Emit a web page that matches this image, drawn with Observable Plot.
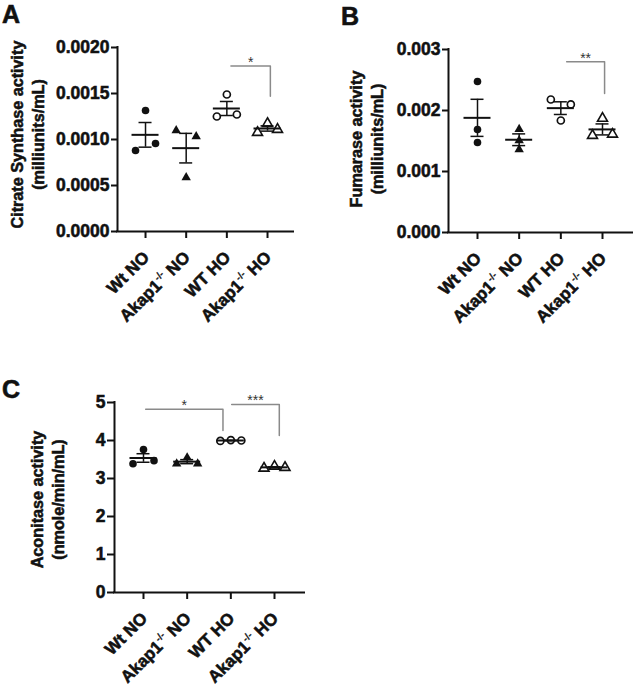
<!DOCTYPE html>
<html>
<head>
<meta charset="utf-8">
<script src="https://cdn.jsdelivr.net/npm/d3@7"></script>
<script src="https://cdn.jsdelivr.net/npm/@observablehq/plot@0.6"></script>
<style>
  body { margin: 0; background: #fff; }
  #fig { position: relative; width: 633px; height: 693px; overflow: hidden; background: #fff;
         font-family: "Liberation Sans", Arial, sans-serif; color: #111; }
  .panel { position: absolute; }
  .letter { position: absolute; font-weight: bold; font-size: 25px; line-height: 1.2; color: #111;
            -webkit-text-stroke: 0.6px #111; }
  #fig svg text { stroke: #111; stroke-width: 0.55px; paint-order: stroke; }
</style>
</head>
<body>
<div id="fig">
  <div class="letter" style="left:2px;top:-1px;">A</div>
  <div class="letter" style="left:341px;top:1px;">B</div>
  <div class="letter" style="left:2px;top:374px;">C</div>
</div>
<script>
// ---------- data ----------
const groups = ["Wt NO", "Akap1-/- NO", "WT HO", "Akap1-/- HO"];

// three animals per group, listed left -> right as they sit in the scatter
const citrate = [
  [0.00088, 0.001315, 0.000957],
  [0.001098, 0.000587, 0.001033],
  [0.00125, 0.001489, 0.001272],
  [0.001076, 0.001174, 0.001109]
];
const citrateCols = [[-1, 0, 1], [-1, 0, 1], [-1, 0, 1], [-1, 0, 1]];

const fumarase = [
  [0.002475, 0.001689, 0.001475],
  [0.001693, 0.001508, 0.001361],
  [0.00218, 0.001836, 0.0021],
  [0.00159, 0.00187, 0.00161]
];
const fumaraseCols = [[0, 0, 0], [0, 0, 0], [-1, 0, 1], [-1, 0, 1]];

const aconitase = [
  [3.39, 3.76, 3.47],
  [3.39, 3.55, 3.39],
  [3.99, 4.01, 4.00],
  [3.27, 3.32, 3.29]
];
const aconitaseCols = [[-1, 0, 1], [-1, 0, 1], [-1, 0, 1], [-1, 0, 1]];

const citrateTicks = [0, 0.0005, 0.001, 0.0015, 0.002];
const fumaraseTicks = [0, 0.001, 0.002, 0.003];
const aconitaseTicks = [0, 1, 2, 3, 4, 5];

// significance brackets (group positions, level, end of the drop)
const citrateSig = [{a: 2.1, b: 3.07, y: 0.0018, yEnd: 0.00147, label: "*"}];
const fumaraseSig = [{a: 2.14, b: 3.05, y: 0.0028, yEnd: 0.00228, label: "**"}];
const aconitaseSig = [
  {a: 0.05, b: 1.82, y: 4.82, yEnd: 4.26, label: "*"},
  {a: 2.02, b: 3.11, y: 4.95, yEnd: 4.13, label: "***"}
];

// ---------- drawing ----------
const ink = "#111";
const NS = "http://www.w3.org/2000/svg";

function superscripts(svg) {
  svg.querySelectorAll("text").forEach(t => {
    if (t.children.length) return;
    const m = t.textContent.match(/^(Akap1)(-\/-)(.*)$/);
    if (!m) return;
    t.textContent = "";
    const a = document.createElementNS(NS, "tspan"); a.textContent = m[1];
    const b = document.createElementNS(NS, "tspan"); b.textContent = m[2];
    b.setAttribute("font-size", "10"); b.setAttribute("dy", "-7"); b.setAttribute("dx", "0.5");
    b.style.strokeWidth = "0.2px";
    const c = document.createElementNS(NS, "tspan"); c.textContent = m[3];
    c.setAttribute("dy", "7");
    t.append(a, b, c);
  });
  svg.querySelectorAll("text").forEach(t => {
    if (/^\*+$/.test(t.textContent)) t.style.stroke = "none";
  });
}

function panel(o) {
  const {values, cols, ticks, fmt, ymax, title, sig, width, height, mt, mb, ml, mr, xdom, spread, tickLen, titleDx, titleDy} = o;
  const ppu = (width - ml - mr) / (xdom[1] - xdom[0]);
  const rows = values.flatMap((vs, g) => vs.map((v, k) => ({g, v, x: g + cols[g][k] * spread / ppu})));
  const stats = values.map((vs, g) => {
    const m = d3.mean(vs), s = d3.deviation(vs) / Math.sqrt(vs.length);
    return {g, m, lo: m - s, hi: m + s};
  });
  const hm = 13.5 / ppu, hc = 6.5 / ppu;
  const bracketPts = sig.flatMap((s, i) => [{i, x: s.a, y: s.y}, {i, x: s.b, y: s.y}, {i, x: s.b, y: s.yEnd}]);
  const svg = Plot.plot({
    width, height, marginTop: mt, marginBottom: mb, marginLeft: ml, marginRight: mr,
    x: {domain: xdom},
    y: {domain: [0, ymax]},
    style: {fontFamily: "'Liberation Sans', Arial, sans-serif", fontSize: "17.5px", fontWeight: "bold", color: ink, background: "transparent", overflow: "visible"},
    marks: [
      Plot.axisY({ticks, tickFormat: fmt, tickSize: tickLen, tickPadding: 2, strokeWidth: 2, label: null, fontSize: 17.5, fontWeight: "bold"}),
      Plot.axisX({ticks: [0, 1, 2, 3], tickSize: 7, tickFormat: () => "", strokeWidth: 2, label: null}),
      Plot.ruleX([xdom[0]], {stroke: ink, strokeWidth: 2, strokeLinecap: "square"}),
      Plot.ruleY([0], {stroke: ink, strokeWidth: 2, strokeLinecap: "square"}),
      Plot.text(groups, {x: (d, i) => i, frameAnchor: "bottom", text: d => d, rotate: -45, textAnchor: "end",
        lineAnchor: "middle", dy: 23, dx: 1, fontSize: 17, fontWeight: "bold", fill: ink}),
      Plot.text([title], {frameAnchor: "left", text: d => d, rotate: -90, lineHeight: 1.3, dx: titleDx, dy: titleDy,
        fontSize: 16.2, fontWeight: "bold", textAnchor: "middle", lineAnchor: "middle", fill: ink}),
      Plot.dot(rows.filter(d => d.g === 0), {x: "x", y: "v", r: 3.8, fill: ink, symbol: "circle"}),
      Plot.dot(rows.filter(d => d.g === 1), {x: "x", y: "v", r: 3.5, fill: ink, symbol: "triangle"}),
      Plot.dot(rows.filter(d => d.g === 2), {x: "x", y: "v", r: 3.5, fill: "white", stroke: ink, strokeWidth: 1.7, symbol: "circle"}),
      Plot.dot(rows.filter(d => d.g === 3), {x: "x", y: "v", r: 3.7, fill: "white", stroke: ink, strokeWidth: 1.6, symbol: "triangle"}),
      Plot.ruleY(stats, {y: "m", x1: d => d.g - hm, x2: d => d.g + hm, stroke: ink, strokeWidth: 2}),
      Plot.ruleX(stats, {x: "g", y1: "lo", y2: "hi", stroke: ink, strokeWidth: 1.5}),
      Plot.ruleY(stats, {y: "hi", x1: d => d.g - hc, x2: d => d.g + hc, stroke: ink, strokeWidth: 1.5}),
      Plot.ruleY(stats, {y: "lo", x1: d => d.g - hc, x2: d => d.g + hc, stroke: ink, strokeWidth: 1.5}),
      Plot.line(bracketPts, {x: "x", y: "y", z: "i", stroke: "#8a8a8a", strokeWidth: 1.5}),
      Plot.text(sig, {x: d => (d.a + d.b) / 2, y: "y", text: "label", lineAnchor: "bottom", dy: 1,
        fontSize: 14, fontWeight: "normal", fill: "#333"})
    ]
  });
  superscripts(svg);
  return svg;
}

function place(svg, left, top) {
  const div = document.createElement("div");
  div.className = "panel";
  div.style.left = left + "px";
  div.style.top = top + "px";
  div.appendChild(svg);
  document.getElementById("fig").appendChild(div);
}

place(panel({
  values: citrate, cols: citrateCols, ticks: citrateTicks, fmt: d3.format(".4f"), ymax: 0.002,
  title: "Citrate Synthase activity\n(milliunits/mL)", sig: citrateSig,
  width: 316, height: 340, mt: 47, mb: 109, ml: 117, mr: 23, xdom: [-0.689, 3.639],
  spread: 10, tickLen: 6, titleDx: -90.5, titleDy: -5
}), 0, 0);

place(panel({
  values: fumarase, cols: fumaraseCols, ticks: fumaraseTicks, fmt: d3.format(".3f"), ymax: 0.003,
  title: "Fumarase activity\n(milliunits/mL)", sig: fumaraseSig,
  width: 317, height: 340, mt: 49, mb: 108, ml: 132, mr: 0, xdom: [-0.696, 3.744],
  spread: 10, tickLen: 6, titleDx: -82.5, titleDy: -2
}), 316, 0);

place(panel({
  values: aconitase, cols: aconitaseCols, ticks: aconitaseTicks, fmt: d3.format("d"), ymax: 5,
  title: "Aconitase activity\n(nmole/min/mL)", sig: aconitaseSig,
  width: 320, height: 347, mt: 56, mb: 101, ml: 114, mr: 16, xdom: [-0.664, 3.687],
  spread: 10.5, tickLen: 7, titleDx: -67.5, titleDy: 2
}), 0, 346);
</script>
</body>
</html>
